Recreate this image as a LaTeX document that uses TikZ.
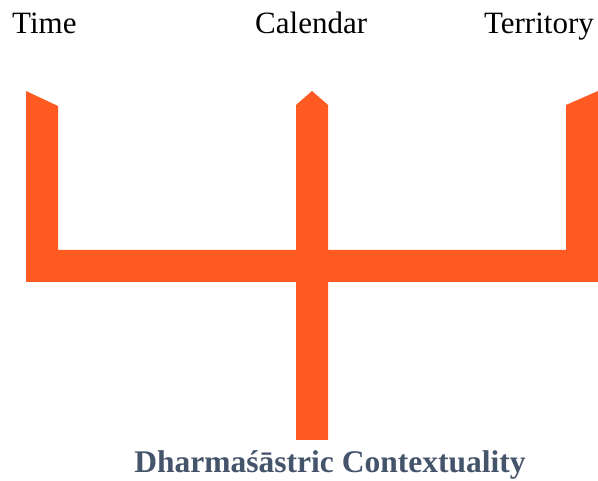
\documentclass[tikz,border=0pt]{standalone}
\usepackage{fontspec}
\setmainfont{Liberation Serif}
\usepackage{xcolor}
\definecolor{Flame}{HTML}{FF5A22}
\definecolor{Slate}{HTML}{44546A}
\tikzset{
  label/.style={inner sep=0pt,font=\fontsize{31}{37}\selectfont},
  title/.style={label,font=\fontsize{31.5}{37}\selectfont\bfseries,text=Slate}
}
\begin{document}
\begin{tikzpicture}[x=1pt,y=-1pt]
\useasboundingbox (0,0) rectangle (598,481);
\fill[Flame] (26,91) -- (58,106) -- (58,250) -- (296,250) -- (296,105) -- (312,91)
  -- (328,105) -- (328,250) -- (566,250) -- (566,105) -- (598,91) -- (598,282)
  -- (328,282) -- (328,440) -- (296,440) -- (296,282) -- (26,282) -- cycle;
\node[label,anchor=base west] (time) at (12,34) {Time};
\node[label,anchor=base west] (calendar) at (255,34) {Calendar};
\node[label,anchor=base east] (territory) at (594,34) {Territory};
\node[title,anchor=base] (context) at (330,473) {Dharmaśāstric Contextuality};
\end{tikzpicture}
\end{document}
